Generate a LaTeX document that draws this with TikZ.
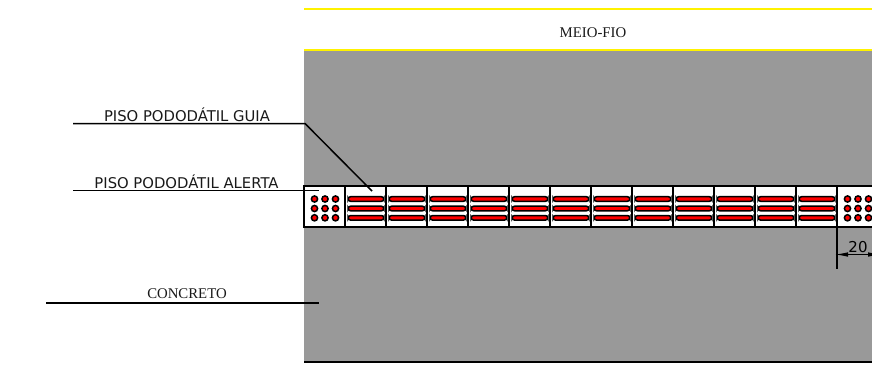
\documentclass[tikz,border=0pt]{standalone}
\usepackage{fontspec}
\setmainfont{Liberation Serif}
\newfontfamily\labelsans{DejaVu Sans}
\usetikzlibrary{arrows.meta}
\definecolor{concretegray}{HTML}{999999}
\definecolor{tilered}{HTML}{FF0000}
\tikzset{
  leader/.style={draw=black,line width=1.5pt},
  sanslabel/.style={font=\labelsans\fontsize{14.8}{16}\selectfont,inner sep=0pt,text=black!90},
  seriflabel/.style={font=\fontsize{14.8}{16}\selectfont,inner sep=0pt,text=black!90},
  tile/.style={draw=black,fill=white,line width=1.5pt},
  curbline/.style={draw=yellow,line width=2pt},
  barshape/.style={draw=black,fill=tilered,line width=1.5pt,rounded corners=2.4pt},
  dotshape/.style={draw=black,fill=tilered,line width=1.5pt},
}
\begin{document}
\begin{tikzpicture}[x=1pt,y=-1pt]
\useasboundingbox (0,0) rectangle (872,364);
\fill[concretegray] (304,51) rectangle (872,361.5);
\draw[line width=1.5pt] (304,362) -- (872,362);
\draw[curbline] (304,8.7) -- (872,8.7);
\draw[curbline] (304,50) -- (872,50);
\node[seriflabel] (meiofio) at (593,33) {MEIO-FIO};
% tiles
\foreach \i in {0,...,13} {
  \pgfmathsetmacro{\xa}{304+41*\i}
  \pgfmathsetmacro{\xb}{\xa+41}
  \draw[tile] (\xa,186) rectangle (\xb,227);
}
% alert tiles dots
\foreach \xo in {304,837} {
  \foreach \dx in {10.5,21,31.5} {
    \foreach \yy in {199,208.5,217.8} {
      \filldraw[dotshape] (\xo+\dx,\yy) circle (3.1);
    }
  }
}
% guide bars
\foreach \i in {1,...,12} {
  \pgfmathsetmacro{\xa}{304+41*\i+3.2}
  \pgfmathsetmacro{\xb}{\xa+35.6}
  \foreach \yy in {199,208.5,217.8} {
    \path[barshape] (\xa,\yy-2.3) rectangle (\xb,\yy+2.3);
  }
}
% leaders
\coordinate (ga) at (73,123.5);
\coordinate (gb) at (305,123.5);
\coordinate (gc) at (372,191);
\draw[leader] (ga) -- (gb) -- (gc);
\coordinate (aa) at (73,190.5);
\coordinate (ab) at (319,190.5);
\draw[leader] (aa) -- (ab);
\coordinate (ca) at (46,303);
\coordinate (cb) at (319,303);
\draw[leader] (ca) -- (cb);
\node[sanslabel] (guia) at (187,115) {PISO PODODÁTIL GUIA};
\node[sanslabel] (alerta) at (186.5,181.5) {PISO PODODÁTIL ALERTA};
\node[seriflabel] (concreto) at (187,294) {CONCRETO};
% dimension
\coordinate (da) at (837,227);
\coordinate (db) at (837,268.5);
\coordinate (dc) at (835,254.5);
\coordinate (dd) at (881,254.5);
\draw[leader] (da) -- (db);
\draw[line width=1pt,{Latex[length=13pt,width=4.5pt]}-{Latex[length=13pt,width=4.5pt]}] (dc) -- (dd);
\node[font=\labelsans\fontsize{15}{17}\selectfont,inner sep=0pt] (dim) at (858,247) {20};
\end{tikzpicture}
\end{document}
